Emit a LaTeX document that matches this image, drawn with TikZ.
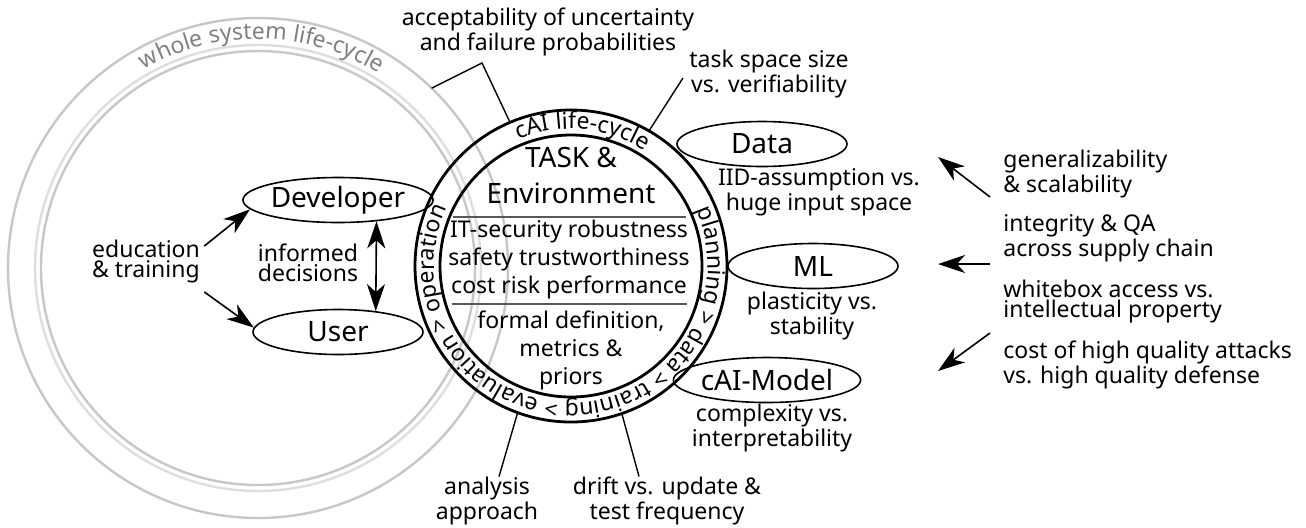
\documentclass[tikz,border=0pt]{standalone}
\usepackage{fontspec}
\setmainfont{Noto Sans}
\usetikzlibrary{shapes.geometric,arrows.meta,decorations.text,calc}
\newcommand\ringf{\fontsize{11.5}{12}\selectfont}
\begin{document}
\begin{tikzpicture}[x=0.5pt,y=0.5pt,
  txt/.style={font=\fontsize{11.5}{10}\selectfont, inner sep=0pt, align=center},
  lbl/.style={draw, ellipse, line width=0.8pt, minimum width=85pt, minimum height=22.5pt, inner sep=0pt, font=\fontsize{14}{16}\selectfont},
  conn/.style={line width=0.7pt},
  tip/.tip={Stealth[length=13.5pt,width=9pt,inset=4pt]},
  arr/.style={line width=0.8pt, -tip},
  ring/.style={circle, draw, line width=1.4pt, inner sep=0pt, outer sep=0pt},
  gring/.style={circle, draw=black!22, line width=1.2pt, inner sep=0pt, outer sep=0pt},
  rule/.style={draw=black!65, line width=1pt},
]
\useasboundingbox (0,0) rectangle (1306,-527);

% whole system life-cycle
\node[gring, minimum size=250pt] (gsys) at (258,-268) {};
\node[gring, draw=black!13, minimum size=223pt] (gsysa) at (258,-268) {};
\node[gring, minimum size=217pt] (gsysb) at (258,-268) {};
\path[decorate, decoration={text along path, text align=center, text color=black!50,
  text={|\ringf|whole system life-cycle}}]
  ($(258,-268)+(130:114.5pt)$) arc[start angle=130, end angle=48, radius=114.5pt];

% cAI life-cycle
\node[ring, minimum size=156pt] (outer) at (571,-266) {};
\node[ring, minimum size=131pt] (inner) at (571,-266) {};
\path[decorate, decoration={text along path, text align=center,
  text={|\ringf|cAI life-cycle}}]
  ($(571,-266)+(120:68.5pt)$) arc[start angle=120, end angle=50, radius=68.5pt];
\path[decorate, decoration={text along path, text align=center,
  text={|\ringf|planning > data > training > evaluation > operation}}]
  ($(571,-266)+(30:68.5pt)$) arc[start angle=30, end angle=-211, radius=68.5pt];

% centre
\node[txt, font=\fontsize{14}{18}\selectfont] (task) at (571,-175) {TASK \&\\Environment};
\path[rule] (453,-217) -- (686,-217);
\node[txt, font=\fontsize{11.5}{14}\selectfont] (props) at (569,-260) {IT-security robustness\\safety trustworthiness\\cost risk performance};
\path[rule] (452,-304) -- (687,-304);
\node[txt, font=\fontsize{11.5}{14}\selectfont] (formal) at (571,-350) {formal definition,\\metrics \&\\priors};

% ellipses
\node[lbl] (dev) at (338,-200) {Developer};
\node[lbl] (user) at (338,-332) {User};
\node[lbl] (data) at (762,-144) {Data};
\node[lbl] (ml) at (813,-266) {ML};
\node[lbl] (cai) at (767,-380) {cAI-Model};

% labels
\node[txt] (acc) at (548,-32) {acceptability of uncertainty\\and failure probabilities};
\node[txt] (tss) at (769,-74) {task space size\\vs. verifiability};
\node[txt] (iid) at (819,-192) {IID-assumption vs.\\huge input space};
\node[txt] (plast) at (812,-316) {plasticity vs.\\stability};
\node[txt] (cplx) at (772,-428) {complexity vs.\\interpretability};
\node[txt] (ana) at (487,-501) {analysis\\approach};
\node[txt] (drift) at (667,-501) {drift vs. update \&\\test frequency};
\node[txt, align=left] (edu) at (146,-262) {education\\\& training};
\node[txt] (inf) at (308,-263) {informed\\decisions};
\node[txt, align=left, anchor=west] (gen) at (1003,-174) {generalizability\\\& scalability};
\node[txt, align=left, anchor=west] (integ) at (1003,-238) {integrity \& QA\\across supply chain};
\node[txt, align=left, anchor=west] (white) at (1003,-302) {whitebox access vs.\\intellectual property};
\node[txt, align=left, anchor=west] (cost) at (1003,-365) {cost of high quality attacks\\vs. high quality defense};

% connectors
\coordinate (accA) at (482,-63);
\draw[conn] (gsys.46) -- (accA) -- (outer.113);
\draw[conn] (outer.60) -- ([xshift=-3pt,yshift=-2pt]tss.west);
\draw[conn] (outer.250) -- ([xshift=6pt]ana.north);
\draw[conn] (outer.289) -- ([xshift=-14pt]drift.north);
\draw[arr] ([xshift=2pt,yshift=-3pt]edu.north east) -- (dev.186);
\draw[arr] ([xshift=2pt,yshift=-4pt]edu.south east) -- (user.177);
\draw[arr, tip-tip] (dev.-29) -- (user.29);

\coordinate (a1s) at (990,-197); \coordinate (a1e) at (938,-157);
\coordinate (a2s) at (990,-264); \coordinate (a2e) at (938,-264);
\coordinate (a3s) at (990,-333); \coordinate (a3e) at (938,-371);
\draw[arr] (a1s) -- (a1e);
\draw[arr] (a2s) -- (a2e);
\draw[arr] (a3s) -- (a3e);
\end{tikzpicture}
\end{document}
